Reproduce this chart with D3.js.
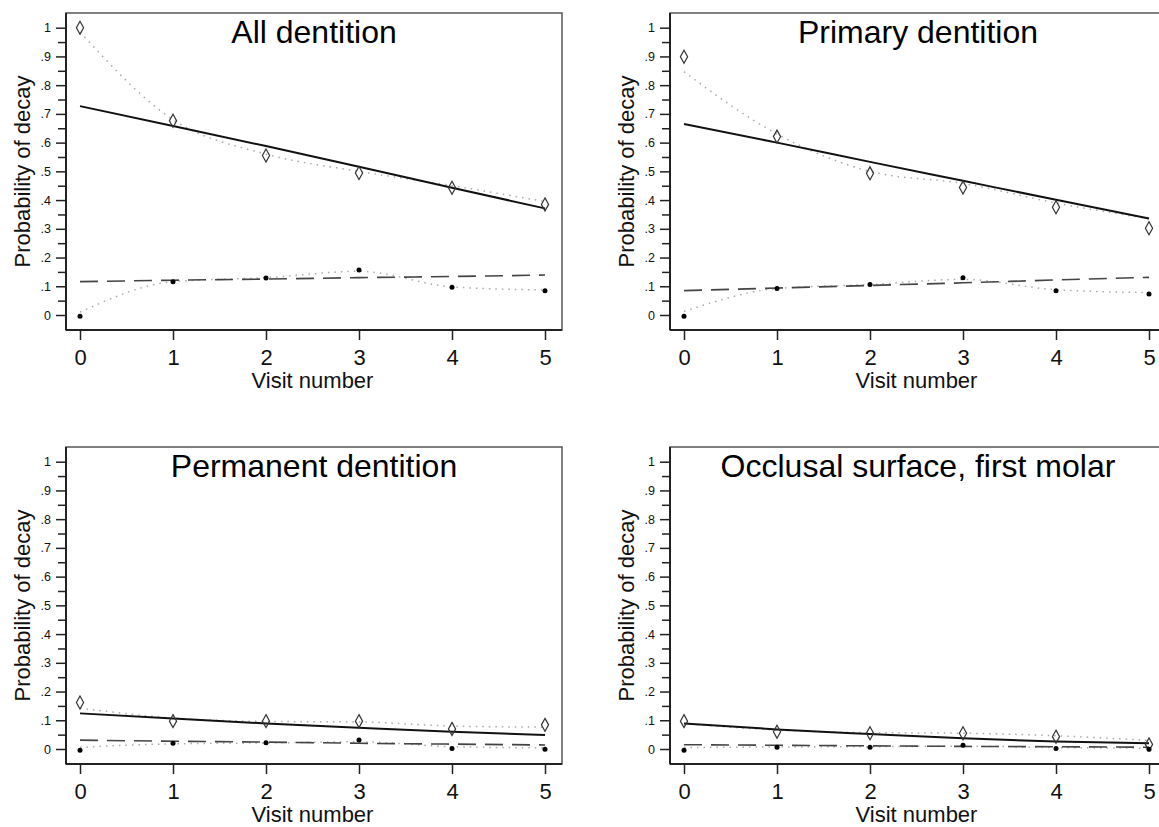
<!DOCTYPE html>
<html>
<head>
<meta charset="utf-8">
<script src="https://cdn.jsdelivr.net/npm/d3@7"></script>
<style>
  body { margin: 0; background: #fff; }
  svg { display: block; font-family: "Liberation Sans", Arial, sans-serif; }
</style>
</head>
<body>
<svg id="chart" width="1159" height="827"></svg>
<script>
var visits = [0, 1, 2, 3, 4, 5];
var panelTitles = ["All dentition", "Primary dentition", "Permanent dentition", "Occlusal surface, first molar"];
var yTickValues = [0, .1, .2, .3, .4, .5, .6, .7, .8, .9, 1];
var yTickLabels = ["0", ".1", ".2", ".3", ".4", ".5", ".6", ".7", ".8", ".9", "1"];
var yMinorTicks = [.05, .15, .25, .35, .45, .55, .65, .75, .85, .95];

// one row per panel, in panelTitles order
var observedDiamond = [
  [1.0, 0.676, 0.555, 0.494, 0.443, 0.385],
  [0.899, 0.621, 0.493, 0.444, 0.375, 0.302],
  [0.162, 0.097, 0.097, 0.097, 0.070, 0.084],
  [0.097, 0.060, 0.055, 0.055, 0.043, 0.016]
];
var observedDot = [
  [-0.004, 0.116, 0.129, 0.157, 0.097, 0.084],
  [-0.004, 0.092, 0.106, 0.130, 0.084, 0.073],
  [-0.004, 0.020, 0.022, 0.031, 0.002, -0.001],
  [-0.004, 0.006, 0.006, 0.013, 0.002, -0.001]
];
var smoothDiamond = [
  [0.985, 0.68, 0.56, 0.50, 0.45, 0.395],
  [0.847, 0.63, 0.50, 0.458, 0.39, 0.335],
  [0.142, 0.108, 0.096, 0.094, 0.080, 0.076],
  [0.088, 0.066, 0.057, 0.055, 0.046, 0.030]
];
var smoothDot = [
  [0.010, 0.116, 0.130, 0.152, 0.098, 0.087],
  [0.012, 0.092, 0.106, 0.124, 0.088, 0.078],
  [0.006, 0.018, 0.021, 0.025, 0.008, 0.004],
  [0.005, 0.007, 0.008, 0.010, 0.005, 0.003]
];
var fitSolid = [
  [0.727, 0.658, 0.588, 0.516, 0.443, 0.371],
  [0.665, 0.600, 0.533, 0.467, 0.401, 0.336],
  [0.124, 0.106, 0.089, 0.074, 0.060, 0.049],
  [0.089, 0.068, 0.052, 0.037, 0.026, 0.020]
];
var fitDashed = [
  [0.116, 0.121, 0.125, 0.130, 0.134, 0.139],
  [0.085, 0.094, 0.103, 0.112, 0.122, 0.131],
  [0.031, 0.027, 0.024, 0.020, 0.017, 0.014],
  [0.015, 0.013, 0.011, 0.009, 0.008, 0.006]
];

var p = {w: 496, h: 317};
var panelPos = [[66, 13], [670, 13], [66, 447], [670, 447]];

var svg = d3.select("#chart");

function drawPanel(k) {
  var g = svg.append("g")
      .attr("transform", "translate(" + panelPos[k][0] + "," + panelPos[k][1] + ")");

  var x = d3.scaleLinear().domain([0, 5]).range([14, 479]);
  var y = d3.scaleLinear().domain([0, 1]).range([302, 14.7]);

  g.append("rect")
      .attr("width", p.w).attr("height", p.h)
      .attr("fill", "none").attr("stroke", "#555").attr("stroke-width", 1.5);

  // minor ticks first, then the labelled axis over them
  g.append("g")
      .call(d3.axisLeft(y).tickValues(yMinorTicks).tickSize(8).tickFormat("").tickSizeOuter(0))
      .call(function(a){ a.select(".domain").remove(); })
      .selectAll("line").attr("stroke", "#222").attr("stroke-width", 1.5);

  var yAxis = g.append("g")
      .call(d3.axisLeft(y).tickValues(yTickValues).tickSize(10).tickPadding(5).tickSizeOuter(0)
        .tickFormat(function(d, i){ return yTickLabels[i]; }));
  yAxis.select(".domain").attr("stroke", "#222").attr("stroke-width", 2)
      .attr("d", "M0,0V" + p.h);
  yAxis.selectAll("line").attr("stroke", "#222").attr("stroke-width", 1.5);
  yAxis.selectAll("text").attr("font-size", 12.5).attr("fill", "#111")
      .attr("font-family", "'Liberation Sans', Arial, sans-serif");

  var xAxis = g.append("g").attr("transform", "translate(0," + p.h + ")")
      .call(d3.axisBottom(x).tickValues(visits).tickSize(10).tickPadding(9).tickSizeOuter(0)
        .tickFormat(d3.format("d")));
  xAxis.select(".domain").attr("stroke", "#222").attr("stroke-width", 2)
      .attr("d", "M0,0H" + p.w);
  xAxis.selectAll("line").attr("stroke", "#222").attr("stroke-width", 1.5);
  xAxis.selectAll("text").attr("font-size", 22).attr("fill", "#111")
      .attr("font-family", "'Liberation Sans', Arial, sans-serif");

  g.append("text")
      .attr("x", (x.range()[0] + x.range()[1]) / 2).attr("y", p.h + 58)
      .attr("text-anchor", "middle").attr("font-size", 22).attr("fill", "#111")
      .text("Visit number");

  g.append("text")
      .attr("transform", "translate(-36," + (p.h / 2) + ") rotate(-90)")
      .attr("text-anchor", "middle").attr("font-size", 22).attr("fill", "#111")
      .text("Probability of decay");

  g.append("text")
      .attr("x", p.w / 2).attr("y", 30)
      .attr("text-anchor", "middle").attr("font-size", 32).attr("fill", "#000")
      .text(panelTitles[k]);

  var smooth = d3.line().x(function(d, i){ return x(visits[i]); }).y(function(d){ return y(d); })
      .curve(d3.curveMonotoneX);

  [smoothDiamond[k], smoothDot[k]].forEach(function(s){
    g.append("path").attr("d", smooth(s))
        .attr("fill", "none").attr("stroke", "#aaa").attr("stroke-width", 1.5)
        .attr("stroke-dasharray", "1.5,5");
  });

  g.append("path").attr("d", smooth(fitSolid[k]))
      .attr("fill", "none").attr("stroke", "#111").attr("stroke-width", 2);

  g.append("path").attr("d", smooth(fitDashed[k]))
      .attr("fill", "none").attr("stroke", "#444").attr("stroke-width", 1.6)
      .attr("stroke-dasharray", "18,9");

  g.selectAll(".diamond").data(observedDiamond[k]).enter().append("path")
      .attr("class", "diamond")
      .attr("transform", function(d, i){ return "translate(" + x(visits[i]) + "," + y(d) + ")"; })
      .attr("d", "M0,-6.5L3.6,0L0,6.5L-3.6,0Z")
      .attr("fill", "none").attr("stroke", "#333").attr("stroke-width", 1.2);

  g.selectAll(".dot").data(observedDot[k]).enter().append("circle")
      .attr("class", "dot")
      .attr("cx", function(d, i){ return x(visits[i]); })
      .attr("cy", function(d){ return y(d); })
      .attr("r", 2.5).attr("fill", "#000");
}

for (var k = 0; k < 4; k++) drawPanel(k);
</script>
</body>
</html>
